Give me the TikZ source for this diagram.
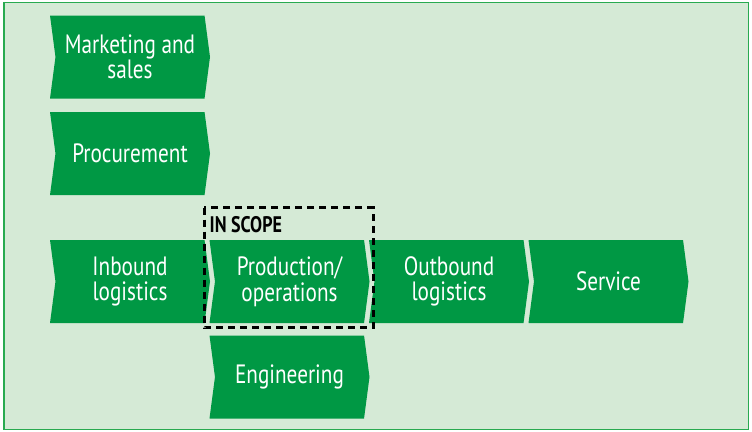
\documentclass[tikz,border=0pt]{standalone}
\usepackage{fontspec}
\setmainfont{PT Sans}[FakeStretch=0.8]
\usetikzlibrary{shapes.symbols}
\definecolor{chevgreen}{RGB}{0,152,68}
\definecolor{panelgreen}{RGB}{213,234,214}
\definecolor{rimgreen}{RGB}{40,170,80}
\begin{document}
\begin{tikzpicture}[x=1pt,y=-1pt,
		chev/.style={shape=signal,signal from=west,signal to=east,signal pointer angle=165,
			fill=chevgreen,draw=none,text=white,minimum width=160pt,minimum height=83pt,
			inner sep=0pt,outer sep=0pt,align=center,font=\fontsize{26.5}{25.5}\selectfont},
		scopebox/.style={draw=black,line width=3pt,dash pattern=on 7pt off 5pt}]
		\useasboundingbox (0,0) rectangle (752,431);
		\draw[fill=panelgreen,draw=rimgreen,line width=1.5pt] (4,2.5) rectangle (748.5,429.5);

		\node[chev] (mkt)  at (130,57)    {Marketing and\\sales};
		\node[chev] (proc) at (130,153.5) {Procurement};
		\node[chev] (inb)  at (130,281.5) {Inbound\\logistics};
		\node[chev] (prod) at (289.5,281.5) {Production/\\operations};
		\node[chev] (outb) at (449,281.5) {Outbound\\logistics};
		\node[chev] (serv) at (608.5,281.5) {Service};
		\node[chev] (eng)  at (289.5,377) {Engineering};

		\draw[scopebox] (204,207.5) rectangle (373,327.5);
		\node[anchor=base west,inner sep=0pt,font=\fontsize{22.5}{22}\selectfont\bfseries] (scope) at (209.5,232) {IN SCOPE};
	\end{tikzpicture}
\end{document}
